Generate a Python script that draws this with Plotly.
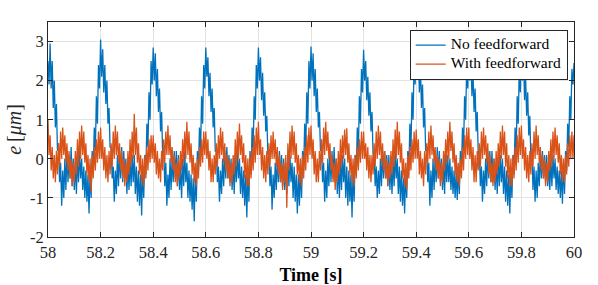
import numpy as np
import plotly.graph_objects as go

# ---- data (4 ms sampling from 58.0 s to 60.0 s) ----
T_START = 58.0
DT = 0.004

no_ff = [
    # 58.0
    2.5, 1.9, 2.95, 1.8, 2.5, 1.3, 2.0, 0.8, 1.4, 0.2,
    0.4, -0.6, -0.1, -1.2, -0.3, -1.0, 0.0, -0.8, 0.2, -0.6,
    0.1, -0.5, 0.3, -0.7, 0.0, -0.8, -0.1, -0.9, 0.1, -0.6,
    0.2, -0.5, 0.0, -0.8, -0.2, -1.0, -0.3, -1.1, -0.4, -1.4,
    -0.3, -1.0, 0.2, -0.3, 0.8, 0.2, 1.6, 0.9, 2.4, 1.8,
    # 58.2
    3.05, 2.1, 2.8, 1.7, 2.4, 1.4, 2.0, 0.9, 1.3, 0.3,
    0.3, -0.5, -0.2, -1.1, -0.3, -0.9, 0.1, -0.7, 0.2, -0.5,
    0.3, -0.6, 0.2, -0.5, 0.0, -0.9, -0.1, -0.8, 0.0, -0.7,
    0.1, -0.6, 0.1, -0.9, -0.2, -1.1, -0.3, -1.2, -0.4, -1.45,
    -0.2, -1.0, 0.1, -0.4, 0.9, 0.3, 1.7, 1.0, 2.5, 1.9,
    # 58.4
    2.85, 2.0, 2.7, 1.6, 2.3, 1.2, 1.8, 0.7, 1.2, 0.1,
    0.3, -0.7, -0.1, -1.2, -0.4, -1.0, 0.0, -0.8, 0.1, -0.6,
    0.2, -0.5, 0.2, -0.7, 0.1, -0.8, -0.2, -1.0, 0.0, -0.7,
    0.2, -0.6, -0.1, -1.0, -0.3, -1.1, -0.4, -1.3, -0.5, -1.6,
    -0.3, -1.1, 0.2, -0.3, 0.8, 0.1, 1.6, 0.9, 2.4, 1.8,
    # 58.6
    2.85, 2.1, 2.6, 1.6, 2.2, 1.2, 1.8, 0.8, 1.3, 0.2,
    0.2, -0.6, -0.2, -1.1, -0.3, -0.9, 0.0, -0.7, 0.2, -0.5,
    0.3, -0.5, 0.1, -0.6, 0.0, -0.8, -0.1, -0.9, 0.1, -0.6,
    0.2, -0.5, 0.0, -0.9, -0.2, -1.0, -0.3, -1.2, -0.4, -1.5,
    -0.3, -1.1, 0.2, -0.4, 0.8, 0.2, 1.6, 1.0, 2.4, 1.8,
    # 58.8
    2.85, 2.0, 2.6, 1.5, 2.2, 1.1, 1.7, 0.7, 1.1, 0.1,
    0.2, -0.7, -0.2, -1.3, -0.4, -1.0, -0.1, -0.8, 0.1, -0.6,
    0.2, -0.6, 0.1, -0.7, 0.0, -0.8, -0.1, -0.9, 0.0, -0.7,
    0.1, -0.6, -0.1, -1.0, -0.2, -1.1, -0.4, -1.4, -0.4, -1.2,
    -0.2, -1.0, 0.2, -0.3, 0.9, 0.2, 1.7, 0.9, 2.5, 1.8,
    # 59.0
    2.87, 2.0, 2.7, 1.6, 2.3, 1.2, 1.8, 0.8, 1.2, 0.2,
    0.3, -0.6, -0.1, -1.1, -0.3, -1.0, 0.0, -0.7, 0.2, -0.6,
    0.2, -0.5, 0.3, -0.6, 0.0, -0.9, -0.1, -1.0, 0.0, -0.8,
    0.1, -0.6, 0.0, -1.0, -0.2, -1.2, -0.3, -1.1, -0.4, -1.5,
    -0.3, -1.1, 0.1, -0.4, 0.8, 0.1, 1.6, 0.9, 2.3, 1.7,
    # 59.2
    2.79, 2.0, 2.5, 1.5, 2.1, 1.1, 1.7, 0.7, 1.2, 0.1,
    0.2, -0.7, -0.2, -1.0, -0.3, -0.9, 0.0, -0.7, 0.2, -0.5,
    0.2, -0.5, 0.1, -0.7, 0.1, -0.8, -0.1, -0.9, 0.0, -0.7,
    0.2, -0.5, 0.0, -0.9, -0.2, -1.1, -0.3, -1.2, -0.5, -1.4,
    -0.3, -1.0, 0.2, -0.3, 0.9, 0.2, 1.7, 1.0, 2.5, 1.9,
    # 59.4
    2.97, 2.1, 2.8, 1.7, 2.4, 1.3, 1.9, 0.8, 1.3, 0.2,
    0.3, -0.6, -0.1, -1.2, -0.3, -1.0, 0.0, -0.8, 0.1, -0.6,
    0.3, -0.5, 0.2, -0.6, 0.0, -0.8, -0.1, -0.9, 0.1, -0.6,
    0.1, -0.6, 0.0, -0.8, -0.2, -0.9, -0.3, -1.0, -0.3, -1.05,
    -0.2, -0.9, 0.2, -0.3, 0.8, 0.2, 1.6, 1.0, 2.4, 1.8,
    # 59.6
    2.9, 2.0, 2.6, 1.6, 2.2, 1.2, 1.8, 0.7, 1.2, 0.1,
    0.2, -0.7, -0.2, -1.1, -0.3, -0.9, 0.0, -0.7, 0.2, -0.5,
    0.2, -0.6, 0.2, -0.6, 0.0, -0.8, -0.1, -0.9, 0.0, -0.7,
    0.1, -0.6, 0.0, -0.9, -0.2, -1.1, -0.3, -1.2, -0.4, -1.4,
    -0.3, -1.0, 0.1, -0.4, 0.8, 0.1, 1.6, 0.9, 2.4, 1.7,
    # 59.8
    2.9, 2.0, 2.6, 1.5, 2.1, 1.1, 1.7, 0.6, 1.1, 0.0,
    0.2, -0.8, -0.2, -1.1, -0.3, -1.0, -0.1, -0.7, 0.2, -0.5,
    0.2, -0.5, 0.1, -0.6, 0.1, -0.7, -0.1, -0.8, 0.0, -0.7,
    0.1, -0.5, 0.0, -0.8, -0.2, -0.9, -0.3, -1.0, -0.3, -1.15,
    -0.1, -0.9, 0.2, -0.3, 0.9, 0.3, 1.6, 1.0, 2.3, 1.9,
    # 60.0
    2.45,
]

with_ff = [
    # 58.0
    1.0, 0.1, 0.6, -0.3, 0.3, -0.5, 0.1, -0.6, 0.2, -0.4,
    0.4, -0.2, 0.7, 0.0, 0.8, 0.1, 0.6, -0.1, 0.4, -0.3,
    0.2, -0.5, 0.0, -0.7, -0.1, -0.6, 0.2, -0.4, 0.5, -0.2,
    0.7, 0.0, 0.85, 0.1, 0.7, -0.1, 0.4, -0.4, 0.1, -0.6,
    0.0, -0.85, 0.1, -0.5, 0.3, -0.3, 0.5, -0.1, 0.7, 0.0,
    # 58.2
    0.8, 0.0, 0.5, -0.3, 0.3, -0.5, 0.1, -0.6, 0.2, -0.4,
    0.4, -0.2, 0.7, 0.0, 0.85, 0.1, 0.7, -0.1, 0.4, -0.3,
    0.2, -0.5, 0.0, -0.7, -0.1, -0.6, 0.2, -0.4, 0.5, -0.2,
    0.7, 0.0, 1.15, 0.1, 0.8, -0.1, 0.4, -0.4, 0.1, -0.6,
    0.0, -0.7, 0.1, -0.5, 0.3, -0.3, 0.5, -0.1, 0.6, 0.0,
    # 58.4
    0.6, -0.1, 0.4, -0.4, 0.2, -0.5, 0.0, -0.6, 0.2, -0.3,
    0.5, -0.1, 0.7, 0.1, 0.85, 0.1, 0.6, -0.1, 0.3, -0.3,
    0.1, -0.6, -0.1, -0.7, 0.0, -0.5, 0.2, -0.3, 0.5, -0.1,
    0.7, 0.0, 0.95, 0.1, 0.7, -0.1, 0.4, -0.4, 0.1, -0.6,
    -0.1, -0.7, 0.0, -0.5, 0.3, -0.2, 0.5, -0.1, 0.7, 0.1,
    # 58.6
    0.7, 0.0, 0.5, -0.3, 0.2, -0.6, 0.0, -0.6, 0.1, -0.4,
    0.4, -0.2, 0.6, 0.0, 0.8, 0.1, 0.7, -0.1, 0.4, -0.3,
    0.1, -0.5, 0.0, -0.7, -0.1, -0.6, 0.1, -0.4, 0.5, -0.2,
    0.7, 0.0, 0.9, 0.1, 0.6, -0.1, 0.4, -0.5, 0.1, -0.7,
    0.0, -0.7, 0.1, -0.5, 0.3, -0.3, 0.6, -0.1, 0.8, 0.1,
    # 58.8
    0.95, 0.1, 0.5, -0.3, 0.3, -0.5, 0.1, -0.6, 0.2, -0.4,
    0.4, -0.2, 0.6, 0.0, 0.7, 0.0, 0.5, -0.2, 0.3, -0.4,
    0.1, -0.6, -0.1, -0.8, -0.1, -0.6, 0.1, -1.25, 0.4, -0.3,
    0.7, 0.0, 0.85, 0.1, 0.7, -0.1, 0.4, -0.4, 0.1, -0.6,
    0.0, -0.7, 0.1, -0.5, 0.3, -0.3, 0.6, -0.1, 0.8, 0.1,
    # 59.0
    0.85, 0.0, 0.5, -0.4, 0.2, -0.6, 0.0, -0.6, 0.2, -0.3,
    0.5, -0.1, 0.8, 0.1, 0.95, 0.2, 0.7, 0.0, 0.4, -0.3,
    0.1, -0.6, -0.1, -0.8, 0.0, -0.6, 0.2, -0.4, 0.5, -0.2,
    0.6, 0.0, 0.75, 0.1, 0.78, -0.1, 0.4, -0.4, 0.1, -0.6,
    0.0, -0.7, 0.1, -0.5, 0.3, -0.3, 0.5, -0.1, 0.7, 0.0,
    # 59.2
    0.7, 0.0, 0.4, -0.3, 0.3, -0.5, 0.1, -0.6, 0.1, -0.4,
    0.4, -0.2, 0.7, 0.0, 0.85, 0.1, 0.7, -0.1, 0.4, -0.3,
    0.2, -0.5, 0.0, -0.7, -0.1, -0.5, 0.2, -0.4, 0.5, -0.2,
    0.75, 0.0, 0.95, 0.1, 0.7, -0.1, 0.4, -0.5, 0.0, -0.7,
    -0.1, -0.8, 0.1, -0.5, 0.3, -0.3, 0.5, -0.1, 0.7, 0.0,
    # 59.4
    0.75, 0.0, 0.5, -0.4, 0.2, -0.5, 0.0, -0.7, 0.2, -0.4,
    0.4, -0.1, 0.7, 0.0, 0.85, 0.1, 0.6, -0.1, 0.3, -0.3,
    0.1, -0.5, 0.0, -0.7, -0.1, -0.6, 0.2, -0.3, 0.5, -0.1,
    0.7, 0.0, 0.95, 0.2, 0.7, -0.1, 0.4, -0.4, 0.1, -0.6,
    -0.1, -0.7, 0.0, -0.5, 0.3, -0.3, 0.6, 0.0, 0.8, 0.1,
    # 59.6
    0.8, 0.0, 0.5, -0.3, 0.3, -0.6, 0.1, -0.6, 0.2, -0.3,
    0.4, -0.2, 0.7, 0.0, 0.8, 0.1, 0.6, -0.1, 0.4, -0.4,
    0.1, -0.6, -0.1, -0.7, 0.0, -0.6, 0.2, -0.4, 0.4, -0.2,
    0.7, 0.0, 0.85, 0.1, 0.7, -0.2, 0.4, -0.5, 0.1, -0.7,
    0.0, -0.7, 0.1, -0.5, 0.3, -0.3, 0.6, -0.1, 0.8, 0.1,
    # 59.8
    0.85, 0.0, 0.5, -0.3, 0.3, -0.5, 0.1, -0.6, 0.2, -0.4,
    0.4, -0.2, 0.7, 0.0, 0.85, 0.1, 0.6, -0.1, 0.3, -0.3,
    0.1, -0.5, 0.0, -0.7, -0.1, -0.6, 0.2, -0.3, 0.5, -0.2,
    0.7, 0.0, 0.8, 0.1, 0.6, -0.1, 0.4, -0.4, 0.1, -0.6,
    0.0, -0.6, 0.1, -0.4, 0.4, -0.2, 0.6, 0.0, 0.7, 0.0,
    # 60.0
    0.6,
]

x_tick_vals = [58.0, 58.2, 58.4, 58.6, 58.8, 59.0, 59.2, 59.4, 59.6, 59.8, 60.0]
x_tick_text = ["58", "58.2", "58.4", "58.6", "58.8", "59", "59.2", "59.4", "59.6", "59.8", "60"]
y_tick_vals = [-2, -1, 0, 1, 2, 3]
y_tick_text = ["-2", "-1", "0", "1", "2", "3"]

series_names = ["No feedforward", "With feedforward"]

# ---- figure ----
t = T_START + DT * np.arange(len(no_ff))

BLUE = "#0072BD"
ORANGE = "#D95319"
AXC = "#262626"
FONT = "Liberation Serif, Times New Roman, serif"

fig = go.Figure()
fig.add_trace(go.Scatter(
    x=t, y=no_ff, mode="lines",
    name='<span style="font-size:15.5px">%s</span>' % series_names[0],
    line=dict(color=BLUE, width=1.3)))
fig.add_trace(go.Scatter(
    x=t, y=with_ff, mode="lines",
    name='<span style="font-size:15.5px">%s</span>' % series_names[1],
    line=dict(color=ORANGE, width=1.3)))

axis_common = dict(
    showline=True, linecolor=AXC, linewidth=1, mirror="ticks",
    ticks="inside", ticklen=5, tickcolor=AXC, tickwidth=1,
    showgrid=True, gridcolor="#e3e3e3", gridwidth=1,
    zeroline=False, automargin=False,
    tickfont=dict(family=FONT, size=16.5, color=AXC),
)

fig.update_layout(
    width=598, height=285,
    margin=dict(l=48, r=24, t=22, b=48),
    paper_bgcolor="white", plot_bgcolor="white",
    font=dict(family=FONT, color=AXC),
    showlegend=True,
    legend=dict(
        x=0.988, y=0.965, xanchor="right", yanchor="top",
        bgcolor="white", bordercolor=AXC, borderwidth=1,
        font=dict(family=FONT, size=10, color="black"),
        tracegroupgap=0,
    ),
    xaxis=dict(
        range=[58, 60], tickvals=x_tick_vals, ticktext=x_tick_text,
        title=dict(text="<b>Time [s]</b>", font=dict(family=FONT, size=18, color="black"),
                   standoff=7),
        **axis_common,
    ),
    yaxis=dict(
        range=[-2, 3.5], tickvals=y_tick_vals, ticktext=y_tick_text,
        title=dict(text="<i>e</i>\u2009[<i>μm</i>]", font=dict(family=FONT, size=20, color=AXC),
                   standoff=2),
        **axis_common,
    ),
)

fig.write_html("out.html", config={"displayModeBar": False},
               post_script="document.body.style.margin='0px';")
